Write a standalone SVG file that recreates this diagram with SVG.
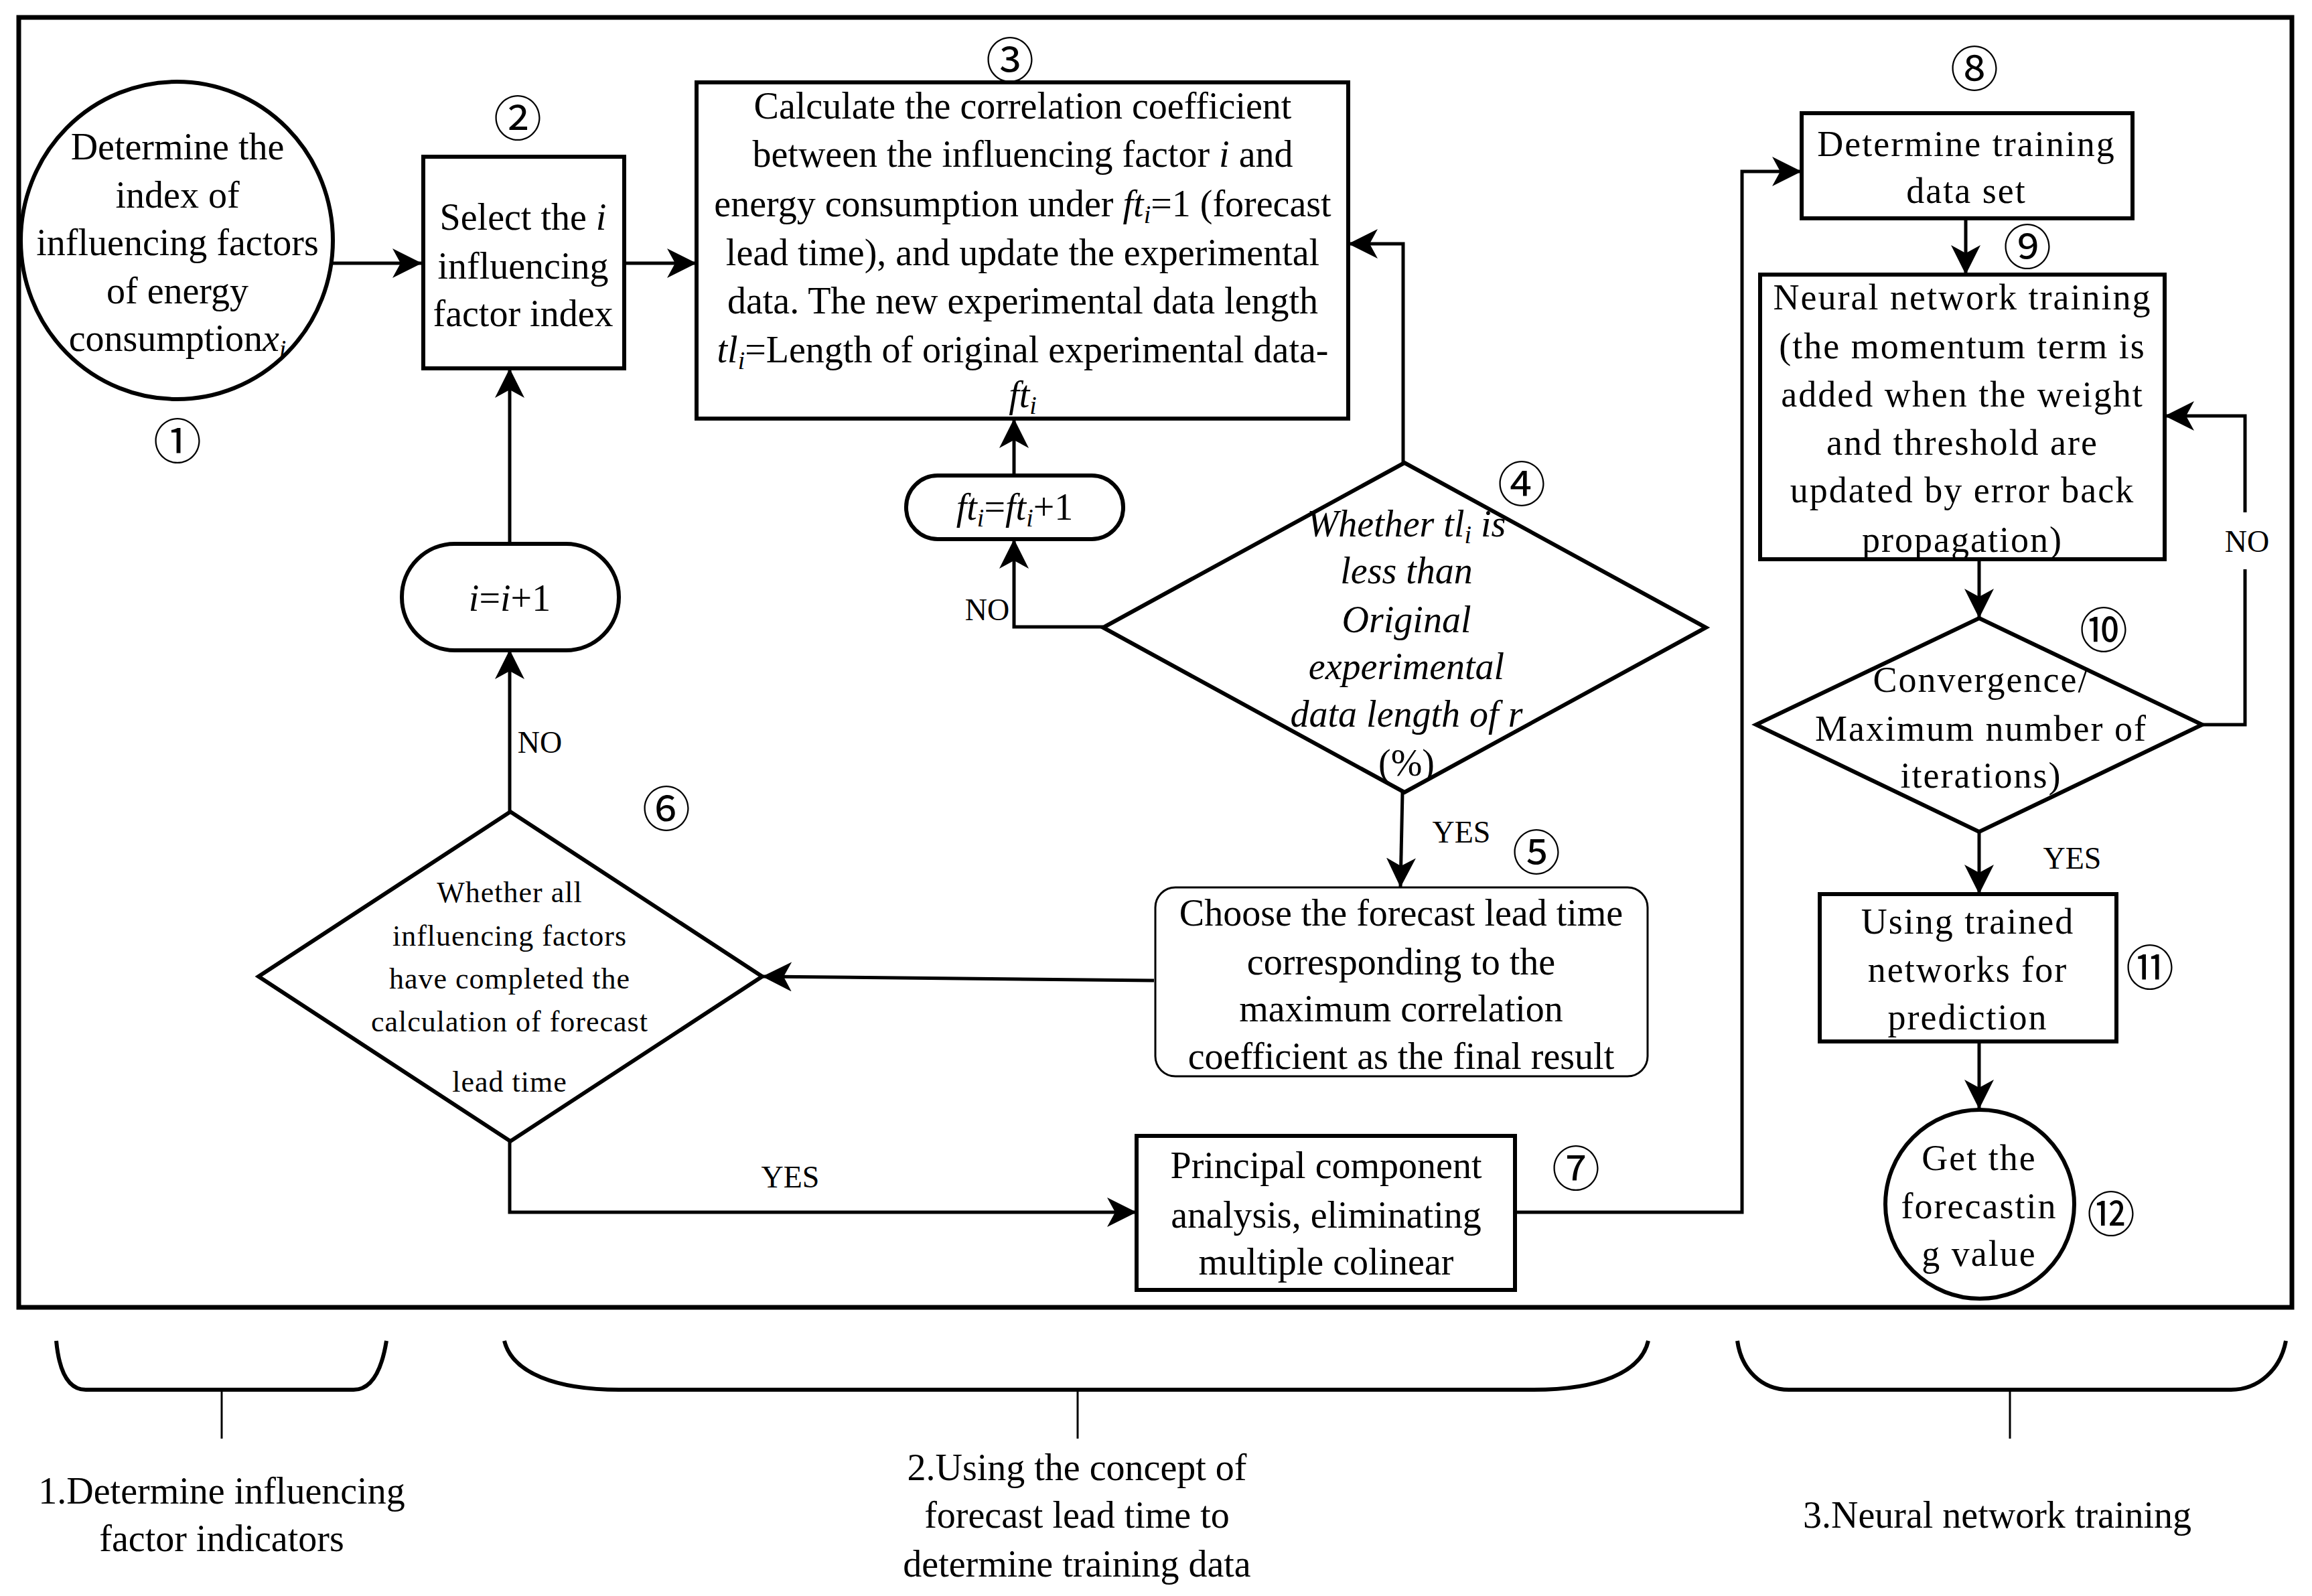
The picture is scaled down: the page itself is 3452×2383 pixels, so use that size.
<svg xmlns="http://www.w3.org/2000/svg" width="3452" height="2383" viewBox="0 0 3452 2383">
<style>
.s{fill:#fff;stroke:#000;stroke-width:6}
.thin{fill:#fff;stroke:#000;stroke-width:3}
.c{fill:none;stroke:#000;stroke-width:5}
.br{fill:none;stroke:#000;stroke-width:6}
.stem{fill:none;stroke:#000;stroke-width:3}
text{font-family:"Liberation Serif","Times New Roman",serif;fill:#000;text-anchor:middle}
.t{font-size:56px}
.w{font-size:54px;letter-spacing:2px}
.d6{font-size:44px;letter-spacing:1px}
.lbl{font-size:46px}
.num{font-family:"Noto Sans CJK SC","DejaVu Sans",sans-serif;font-size:72px}
.it{font-style:italic}
</style>
<defs>
<marker id="ah" markerUnits="userSpaceOnUse" viewBox="0 0 50 50" markerWidth="50" markerHeight="50" refX="44" refY="22" orient="auto">
<path d="M0,0 L44,22 L0,44 L12,22 Z" fill="#000"/>
</marker>
</defs>
<rect x="28" y="26" width="3394" height="1926" fill="none" stroke="#000" stroke-width="7"/>

<g id="connectors">
<path class="c" d="M497 393 L630 393" marker-end="url(#ah)"/>
<path class="c" d="M932 393 L1040 393" marker-end="url(#ah)"/>
<path class="c" d="M761 812 L761 550" marker-end="url(#ah)"/>
<path class="c" d="M761 1212 L761 970" marker-end="url(#ah)"/>
<path class="c" d="M761 1703 L761 1810 L1697 1810" marker-end="url(#ah)"/>
<path class="c" d="M1723 1464 L1138 1458" marker-end="url(#ah)"/>
<path class="c" d="M2094 1183 L2091 1325" marker-end="url(#ah)"/>
<path class="c" d="M1647 936 L1514 936 L1514 805" marker-end="url(#ah)"/>
<path class="c" d="M1514 710 L1514 625" marker-end="url(#ah)"/>
<path class="c" d="M2095 691 L2095 364 L2013 364" marker-end="url(#ah)"/>
<path class="c" d="M2262 1810 L2601 1810 L2601 256 L2690 256" marker-end="url(#ah)"/>
<path class="c" d="M2935 326 L2935 410" marker-end="url(#ah)"/>
<path class="c" d="M2955 835 L2955 923" marker-end="url(#ah)"/>
<path class="c" d="M3288 1082 L3352 1082 L3352 850"/>
<path class="c" d="M3352 765 L3352 621 L3232 621" marker-end="url(#ah)"/>
<path class="c" d="M2955 1242 L2955 1335" marker-end="url(#ah)"/>
<path class="c" d="M2955 1555 L2955 1656" marker-end="url(#ah)"/>
<text class="lbl" x="1474" y="926">NO</text>
<text class="lbl" x="806" y="1124">NO</text>
<text class="lbl" x="3355" y="824">NO</text>
<text class="lbl" x="2182" y="1258">YES</text>
<text class="lbl" x="1180" y="1773">YES</text>
<text class="lbl" x="3094" y="1297">YES</text>
</g>

<g id="n1">
<ellipse class="s" cx="264" cy="359" rx="233" ry="237"/>
<text class="t" x="265" y="238">Determine the</text>
<text class="t" x="265" y="310">index of</text>
<text class="t" x="265" y="381">influencing factors</text>
<text class="t" x="265" y="453">of energy</text>
<text class="t" x="265" y="524">consumption<tspan class="it">x</tspan><tspan class="it" font-size="38" dy="10">i</tspan></text>
<text class="num" x="265" y="685">①</text>
</g>

<g id="n2">
<rect class="s" x="632" y="234" width="300" height="316"/>
<text class="t" x="781" y="343">Select the <tspan class="it">i</tspan></text>
<text class="t" x="781" y="416">influencing</text>
<text class="t" x="781" y="487">factor index</text>
<text class="num" x="773" y="203">②</text>
</g>

<g id="n3">
<rect class="s" x="1040" y="123" width="973" height="502"/>
<text class="t" x="1527" y="177">Calculate the correlation coefficient</text>
<text class="t" x="1527" y="249">between the influencing factor <tspan class="it">i</tspan> and</text>
<text class="t" x="1527" y="323">energy consumption under <tspan class="it">ft</tspan><tspan class="it" font-size="38" dy="10">i</tspan><tspan dy="-10">=1 (forecast</tspan></text>
<text class="t" x="1527" y="396">lead time), and update the experimental</text>
<text class="t" x="1527" y="468">data. The new experimental data length</text>
<text class="t" x="1527" y="541"><tspan class="it">tl</tspan><tspan class="it" font-size="38" dy="10">i</tspan><tspan dy="-10">=Length of original experimental data-</tspan></text>
<text class="t" x="1527" y="608"><tspan class="it">ft</tspan><tspan class="it" font-size="38" dy="10">i</tspan></text>
<text class="num" x="1508" y="116">③</text>
</g>

<g id="n4">
<polygon class="s" points="2097,691 2547,937 2097,1183 1647,937"/>
<text class="t it" x="2100" y="801">Whether tl<tspan font-size="38" dy="10">i</tspan><tspan dy="-10"> is</tspan></text>
<text class="t it" x="2100" y="871">less than</text>
<text class="t it" x="2100" y="944">Original</text>
<text class="t it" x="2100" y="1014">experimental</text>
<text class="t it" x="2100" y="1085">data length of r</text>
<text class="t" x="2100" y="1158">(%)</text>
<text class="num" x="2272" y="749">④</text>
</g>

<g id="n4b">
<rect class="s" x="1353" y="710" width="324" height="95" rx="47" ry="47" stroke-width="5"/>
<text class="t" x="1515" y="776"><tspan class="it">ft</tspan><tspan class="it" font-size="38" dy="10">i</tspan><tspan dy="-10">=</tspan><tspan class="it">ft</tspan><tspan class="it" font-size="38" dy="10">i</tspan><tspan dy="-10">+1</tspan></text>
</g>

<g id="n5">
<rect class="thin" x="1725" y="1325" width="735" height="282" rx="30" ry="30"/>
<text class="t" x="2092" y="1382">Choose the forecast lead time</text>
<text class="t" x="2092" y="1455">corresponding to the</text>
<text class="t" x="2092" y="1525">maximum correlation</text>
<text class="t" x="2092" y="1596">coefficient as the final result</text>
<text class="num" x="2294" y="1299">⑤</text>
</g>

<g id="n6">
<polygon class="s" points="762,1212 1138,1458 762,1704 386,1458"/>
<text class="d6" x="761" y="1347">Whether all</text>
<text class="d6" x="761" y="1412">influencing factors</text>
<text class="d6" x="761" y="1476">have completed the</text>
<text class="d6" x="761" y="1540">calculation of forecast</text>
<text class="d6" x="761" y="1630">lead time</text>
<text class="num" x="995" y="1234">⑥</text>
</g>

<g id="n6b">
<rect class="s" x="600" y="812" width="324" height="159" rx="79" ry="79" stroke-width="5"/>
<text class="t" x="761" y="912"><tspan class="it">i</tspan>=<tspan class="it">i</tspan>+1</text>
</g>

<g id="n7">
<rect class="s" x="1697" y="1696" width="565" height="230"/>
<text class="t" x="1980" y="1759">Principal component</text>
<text class="t" x="1980" y="1833">analysis, eliminating</text>
<text class="t" x="1980" y="1903">multiple colinear</text>
<text class="num" x="2353" y="1771">⑦</text>
</g>

<g id="n8">
<rect class="s" x="2690" y="169" width="494" height="157"/>
<text class="w" x="2936" y="233">Determine training</text>
<text class="w" x="2936" y="303">data set</text>
<text class="num" x="2948" y="129">⑧</text>
</g>

<g id="n9">
<rect class="s" x="2628" y="410" width="604" height="425"/>
<text class="w" x="2930" y="462">Neural network training</text>
<text class="w" x="2930" y="535">(the momentum term is</text>
<text class="w" x="2930" y="607">added when the weight</text>
<text class="w" x="2930" y="679">and threshold are</text>
<text class="w" x="2930" y="750">updated by error back</text>
<text class="w" x="2930" y="824">propagation)</text>
<text class="num" x="3027" y="395" font-size="66">⑨</text>
</g>

<g id="n10">
<polygon class="s" points="2955,923 3288,1082 2955,1242 2622,1082"/>
<text class="w" x="2958" y="1033">Convergence/</text>
<text class="w" x="2958" y="1106">Maximum number of</text>
<text class="w" x="2958" y="1176">iterations)</text>
<text class="num" x="3141" y="967">⑩</text>
</g>

<g id="n11">
<rect class="s" x="2717" y="1335" width="443" height="220"/>
<text class="w" x="2938" y="1394">Using trained</text>
<text class="w" x="2938" y="1466">networks for</text>
<text class="w" x="2938" y="1537">prediction</text>
<text class="num" x="3210" y="1471">⑪</text>
</g>

<g id="n12">
<circle class="s" cx="2956" cy="1798" r="141"/>
<text class="w" x="2955" y="1747">Get the</text>
<text class="w" x="2955" y="1819">forecastin</text>
<text class="w" x="2955" y="1890">g value</text>
<text class="num" x="3152" y="1839">⑫</text>
</g>

<g id="brackets">
<path class="br" d="M84 2002 C88 2045 100 2075 128 2075 L528 2075 C556 2075 570 2045 577 2002"/>
<path class="stem" d="M331 2075 L331 2148"/>
<path class="br" d="M753 2002 C765 2050 830 2075 925 2075 L2290 2075 C2385 2075 2450 2050 2461 2002"/>
<path class="stem" d="M1609 2075 L1609 2148"/>
<path class="br" d="M2594 2002 C2600 2045 2630 2075 2671 2075 L3331 2075 C3372 2075 3405 2045 3413 2002"/>
<path class="stem" d="M3001 2075 L3001 2148"/>
<text class="t" x="331" y="2245">1.Determine influencing</text>
<text class="t" x="331" y="2316">factor indicators</text>
<text class="t" x="1608" y="2210">2.Using the concept of</text>
<text class="t" x="1608" y="2281">forecast lead time to</text>
<text class="t" x="1608" y="2354">determine training data</text>
<text class="t" x="2982" y="2281">3.Neural network training</text>
</g>
</svg>
